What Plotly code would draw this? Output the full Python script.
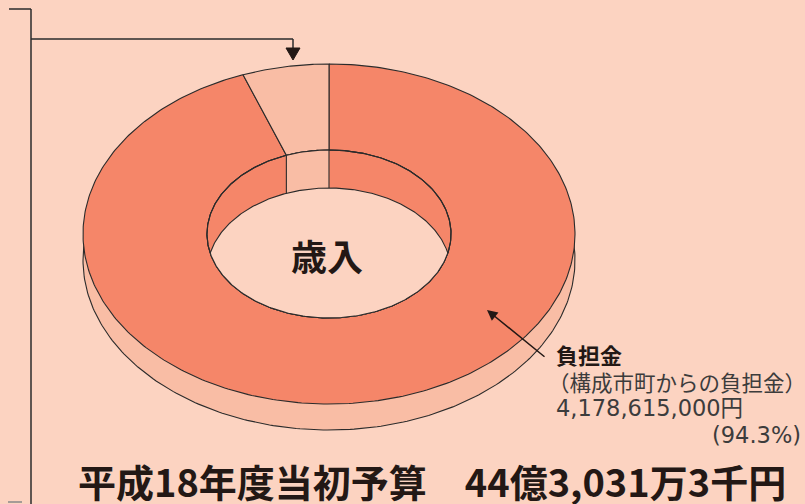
import numpy as np
import plotly.graph_objects as go

# ---- data ----
categories = ["負担金", "その他"]
values = [4178615000, 251698000]
total_label = "平成18年度当初予算　44億3,031万3千円"
center_label = "歳入"
main_label_title = "負担金"
main_label_lines = ["（構成市町からの負担金）", "4,178,615,000円"]
main_pct = "(94.3%)"
other_label_tail = "金）"

# ---- style ----
BG = "#FCD3C1"
DARK = "#F58669"
LIGHT = "#F9BDA5"
LINE = "#2b2b2b"
FONT = "Noto Sans CJK JP"
NUMFONT = "DejaVu Sans, Noto Sans CJK JP"

CX, CY = 329, 234
RX, RY = 246, 170
IRX, IRY = 122, 84
DEPTH_OUT = 26
DEPTH_IN = 38

total = sum(values)
frac_small = values[1] / total
a = 2 * np.pi * frac_small  # angle of small slice (counter-clockwise from top)


def ell(rx, ry, cy, th):
    return CX + rx * np.sin(th), cy - ry * np.cos(th)


fig = go.Figure()


def poly(xs, ys, fill, line=True, width=1.1):
    fig.add_trace(go.Scatter(
        x=list(xs) + [xs[0]], y=list(ys) + [ys[0]], mode="lines", fill="toself",
        fillcolor=fill, line=dict(color=LINE if line else fill, width=width if line else 0),
        hoverinfo="skip", showlegend=False))


def path(xs, ys, width=1.1):
    fig.add_trace(go.Scatter(x=list(xs), y=list(ys), mode="lines",
                             line=dict(color=LINE, width=width),
                             hoverinfo="skip", showlegend=False))


# 1. outer side (lower ellipse)
th = np.linspace(0, 2 * np.pi, 400)
x, y = ell(RX, RY, CY + DEPTH_OUT, th)
poly(x, y, LIGHT)

# 2. top face: big slice
t_big = np.linspace(0, 2 * np.pi - a, 400)
xo, yo = ell(RX, RY, CY, t_big)
xi, yi = ell(IRX, IRY, CY, t_big[::-1])
poly(np.r_[xo, xi], np.r_[yo, yi], DARK)

# small slice (from -a to 0)
t_sm = np.linspace(-a, 0, 60)
xo, yo = ell(RX, RY, CY, t_sm)
xi, yi = ell(IRX, IRY, CY, t_sm[::-1])
poly(np.r_[xo, xi], np.r_[yo, yi], LIGHT)

# 3. inner hole: wall
x, y = ell(IRX, IRY, CY, th)
poly(x, y, DARK)
xw1, yw1 = ell(IRX, IRY, CY, t_sm)
xw2, yw2 = ell(IRX, IRY, CY + DEPTH_IN, t_sm[::-1])
poly(np.r_[xw1, xw2], np.r_[yw1, yw2], LIGHT, line=False)

# floor (intersection of top inner ellipse and shifted one)
c = np.arccos(np.clip((DEPTH_IN / 2) / IRY, -1, 1))
t_up = np.linspace(-c, c, 200)                     # upper arc of shifted ellipse
xf1, yf1 = ell(IRX, IRY, CY + DEPTH_IN, t_up)
t_low = np.linspace(np.pi - c, np.pi + c, 200)     # lower arc of top ellipse
xf2, yf2 = ell(IRX, IRY, CY, t_low)
fig.add_trace(go.Scatter(x=list(np.r_[xf1, xf2, xf1[:1]]), y=list(np.r_[yf1, yf2, yf1[:1]]),
                         mode="lines", fill="toself", fillcolor=BG,
                         line=dict(color=BG, width=0), hoverinfo="skip", showlegend=False))
path(xf1, yf1)
x, y = ell(IRX, IRY, CY, th)
path(x, y)

# wall vertical edges
for t in [0.0, -a]:
    x1, y1 = ell(IRX, IRY, CY, t)
    x2, y2 = ell(IRX, IRY, CY + DEPTH_IN, t)
    path([x1, x2], [y1, y2])

shapes = [
    dict(type="line", x0=9, y0=9, x1=31, y1=9, line=dict(color=LINE, width=1.5)),
    dict(type="line", x0=31, y0=9, x1=31, y1=510, line=dict(color=LINE, width=1.5)),
    dict(type="line", x0=31, y0=39, x1=293, y1=39, line=dict(color=LINE, width=1.5)),
    dict(type="line", x0=293, y0=39, x1=293, y1=49, line=dict(color=LINE, width=1.5)),
    dict(type="path", path="M 286 48 L 300 48 L 293 60 Z", fillcolor="#231815",
         line=dict(color="#231815", width=1)),
    dict(type="line", x0=8, y0=502, x1=22, y1=502, line=dict(color="#888888", width=1.5)),
]

ann = [
    dict(x=CX - 2, y=255, text=f"<b>{center_label}</b>", showarrow=False,
         font=dict(size=36, color="#231815", family=FONT)),
    dict(x=554, y=354, text=f"<b>{main_label_title}</b>", showarrow=False, xanchor="left",
         font=dict(size=22, color="#231815", family=FONT)),
    dict(x=546, y=381, text=main_label_lines[0], showarrow=False, xanchor="left",
         font=dict(size=21.5, color="#3c3c3c", family=FONT)),
    dict(x=554, y=408, text=main_label_lines[1], showarrow=False, xanchor="left",
         font=dict(size=22.5, color="#3c3c3c", family=NUMFONT)),
    dict(x=803, y=435, text=main_pct, showarrow=False, xanchor="right",
         font=dict(size=22.5, color="#3c3c3c", family=NUMFONT)),
    dict(x=14, y=118, text=other_label_tail, showarrow=False, xanchor="right",
         font=dict(size=21, color="#3c3c3c", family=FONT)),
    dict(x=432, y=480, text=f"<b>{total_label}</b>", showarrow=False,
         font=dict(size=38, color="#231815", family=FONT)),
    dict(x=487, y=310, ax=546, ay=358, axref="x", ayref="y", xref="x", yref="y",
         text="", showarrow=True, arrowhead=2, arrowsize=1.4, arrowwidth=1.5,
         arrowcolor="#231815"),
]

fig.update_layout(
    width=805, height=504, margin=dict(l=0, r=0, t=0, b=0),
    paper_bgcolor=BG, plot_bgcolor=BG,
    xaxis=dict(range=[0, 805], visible=False, fixedrange=True),
    yaxis=dict(range=[504, 0], visible=False, fixedrange=True),
    shapes=shapes, annotations=ann, showlegend=False,
)
fig.write_html("out.html", config={"displayModeBar": False},
               post_script="document.body.style.margin='0';document.body.style.overflow='hidden';")
